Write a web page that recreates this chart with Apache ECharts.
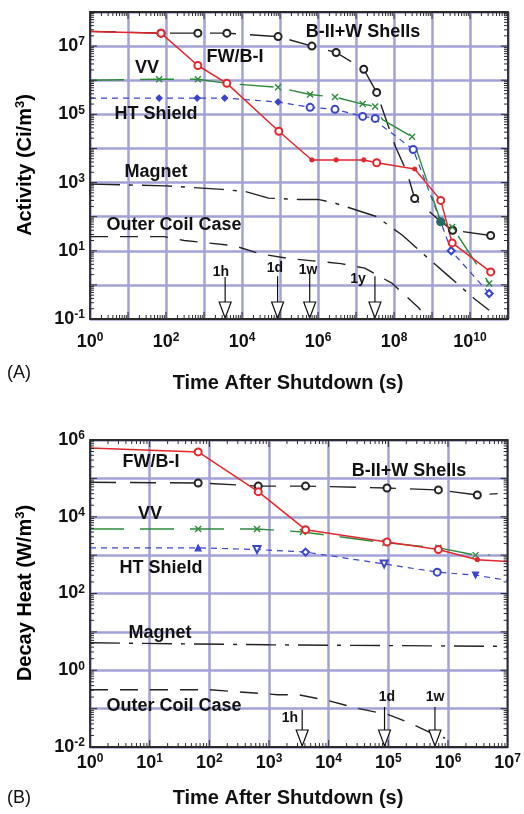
<!DOCTYPE html>
<html><head><meta charset="utf-8">
<script src="https://cdn.jsdelivr.net/npm/echarts@6/dist/echarts.min.js"></script>
<style>html,body{margin:0;padding:0;background:#fff}#c{width:524px;height:814px}</style>
</head><body><div id="c"></div>
<script>
// ================= DATA =================
// (A) Activity (Ci/m^3) vs time after shutdown (s)
const aFwT = [1, 74, 690, 4000, 9.3e4, 6.9e5, 3.0e6, 1.6e7, 3.5e7, 3.5e8, 1.7e9, 3.4e9, 3.5e10];
const aFwV = [2.7e7, 2.4e7, 2.7e6, 8.1e5, 3.2e4, 4.6e3, 4.6e3, 4.6e3, 3.8e3, 2.5e3, 300, 17, 2.4];
const aVvT = [1, 66, 690, 4000, 8.9e4, 6.2e5, 2.8e6, 1.5e7, 3.2e7, 5.0e7, 3.0e8, 1.7e9, 3.4e9, 3.2e10];
const aVvV = [1.0e6, 1.07e6, 1.07e6, 8.1e5, 6.2e5, 3.8e5, 3.2e5, 2.0e5, 1.7e5, 7.0e4, 2.2e4, 71, 50, 1.1];
const aHtT = [1, 66, 660, 3500, 8.9e4, 6.2e5, 2.8e6, 1.5e7, 3.2e7, 5.0e7, 3.2e8, 1.7e9, 3.2e9, 3.2e10];
const aHtV = [3.0e5, 3.0e5, 3.0e5, 3.0e5, 2.3e5, 1.6e5, 1.4e5, 8.7e4, 7.6e4, 4.5e4, 9.3e3, 71, 10, 0.56];
const aBwT = [1, 74, 690, 4000, 8.9e4, 6.9e5, 3.0e6, 1.6e7, 3.5e7, 1.1e8, 2.2e8, 3.5e8, 1.7e9, 3.5e9, 3.5e10];
const aBwV = [2.7e7, 2.4e7, 2.4e7, 2.4e7, 1.9e7, 1.0e7, 6.5e6, 2.1e6, 4.4e5, 1.1e4, 2.0e3, 340, 71, 40, 28];
const aMgT = [1, 100, 3000, 1.2e4, 5e4, 3.2e5, 1e6, 2.5e6, 3.5e7, 1.7e8, 6.6e8, 2.6e9, 1.35e10, 3.2e10];
const aMgV = [900, 800, 630, 550, 350, 320, 320, 260, 100, 28, 7.2, 1.9, 0.38, 0.18];
const aOcT = [1, 90, 300, 6.3e3, 3.2e4, 1.6e5, 4e6, 1.7e7, 9e7, 4.3e8, 1e9];
const aOcV = [26, 26, 20, 14, 8, 6, 4.2, 3.1, 1.1, 0.22, 0.08];
const aArrowT = [3600, 86400, 604800, 3.15e7];
const aArrowTop = [1.7, 1.8, 2.1, 1.8];
const aArrowLbl = ['1h', '1d', '1w', '1y'];

// (B) Decay heat (W/m^3) vs time after shutdown (s)
const bFwT = [1, 65, 660, 4100, 9.5e4, 6.9e5, 3.1e6, 1e7];
const bFwV = [6.2e5, 4.9e5, 4.5e4, 4.6e3, 2.2e3, 1.4e3, 760, 680];
const bVvT = [1, 65, 630, 3700, 8.9e4, 6.9e5, 2.9e6, 5e6];
const bVvV = [4.8e3, 4.8e3, 4.8e3, 4.0e3, 2.1e3, 1.55e3, 1.0e3, 1.0e3];
const bHtT = [1, 65, 630, 4100, 8.5e4, 6.6e5, 2.9e6, 1e7];
const bHtV = [1.55e3, 1.55e3, 1.4e3, 1.2e3, 590, 360, 300, 220];
const bBwT = [1, 65, 660, 4100, 9.5e4, 6.9e5, 3.1e6, 6.8e6];
const bBwV = [7.9e4, 7.6e4, 6.3e4, 6.3e4, 5.6e4, 5.0e4, 3.7e4, 4.0e4];
const bMgT = [1, 1000, 1e7];
const bMgV = [5.2, 4.6, 4.2];
const bOcT = [1, 100, 1400, 3100, 1e4, 3.2e4, 1e5, 2.5e5, 6.3e5, 9e5];
const bOcV = [0.31, 0.31, 0.23, 0.23, 0.16, 0.10, 0.07, 0.04, 0.02, 0.017];
const bArrowT = [3600, 86400, 604800];
const bArrowTop = [0.093, 0.11, 0.11];
const bArrowLbl = ['1h', '1d', '1w'];

const seriesNames = ['FW/B-I', 'VV', 'HT Shield', 'B-II+W Shells', 'Magnet', 'Outer Coil Case'];
const xTitle = 'Time After Shutdown (s)';

// ================= STYLE =================
const FONT = '"Liberation Sans", Arial, Helvetica, sans-serif';
const C = {fw: '#e2262c', vv: '#2e8a3b', ht: '#3a45c8', bw: '#222', grid: '#a2a2d8', frame: '#2a2a2a'};
const marks = {
  aFw: ['', 'o', 'o', 'o', 'o', '.', '.', '.', 'o', '.', 'o', 'o', 'o'],
  aVv: ['', 'x', 'x', 'x', 'x', 'x', 'x', 'x', 'x', '', 'x', 'T', 'x', 'x'],
  aHt: ['', 'd', 'd', 'd', 'd', 'o', 'o', 'o', 'o', '', 'o', '', 'D', 'D'],
  aBw: ['', 'o', 'o', 'o', 'o', 'o', 'o', 'o', 'o', '', '', 'o', '', 'o', 'o'],
  bFw: ['', 'o', 'o', 'o', 'o', 'o', '.', ''],
  bVv: ['', 'x', 'x', 'x', 'x', 'x', 'x', ''],
  bHt: ['', '^', 'v', 'D', 'v', 'o', 'V', ''],
  bBw: ['', 'o', 'o', 'o', 'o', 'o', 'o', '']
};
const SYM = {
  'o': {symbol: 'emptyCircle', size: 7},
  '.': {symbol: 'circle', size: 4},
  'x': {symbol: 'path://M0,0L10,10M10,0L0,10', size: 6, stroke: true},
  'd': {symbol: 'diamond', size: 6},
  'D': {symbol: 'emptyDiamond', size: 7},
  '^': {symbol: 'triangle', size: 6},
  'v': {symbol: 'emptyTriangle', size: 7, rotate: 180},
  'V': {symbol: 'triangle', size: 6, rotate: 180},
  'T': {symbol: 'circle', size: 8, color: '#2c6a66'}
};
function build(ts, vs, mk, color) {
  return ts.map((t, i) => {
    const m = mk && SYM[mk[i]];
    if (!m) return {value: [t, vs[i]], symbol: 'none'};
    const c = m.color || color;
    const it = {value: [t, vs[i]], symbol: m.symbol, symbolSize: m.size,
      itemStyle: {color: c, borderColor: c, borderWidth: m.stroke ? 1.4 : 1.2}};
    if (m.rotate) it.symbolRotate = m.rotate;
    return it;
  });
}
function line(gi, name, data, color, type, width) {
  return {type: 'line', name, xAxisIndex: gi, yAxisIndex: gi, data, z: 4,
    lineStyle: {color, width: width || 1.4, type: type || 'solid'},
    itemStyle: {color}, showSymbol: true, animation: false, clip: true};
}
function frameSeries(gi, xE, yE) {
  const x0 = Math.pow(10, xE[0]), x1 = Math.pow(10, xE[1]);
  const y0 = Math.pow(10, yE[0]), y1 = Math.pow(10, yE[1]);
  return {type: 'custom', xAxisIndex: gi, yAxisIndex: gi, silent: true, z: 10, clip: false,
    data: [[x0, y0]],
    renderItem: (params, api) => {
      const bl = api.coord([x0, y0]), tr = api.coord([x1, y1]);
      const L = bl[0], R = tr[0], B = bl[1], T = tr[1];
      const st = {stroke: C.frame, lineWidth: 1};
      const kids = [];
      for (let k = xE[0]; k < xE[1]; k++) for (let m = 1; m < 10; m++) {
        if (m === 1 && k === xE[0]) continue;
        const x = api.coord([m * Math.pow(10, k), y0])[0];
        const len = m === 1 ? 7 : 4;
        kids.push({type: 'line', shape: {x1: x, y1: B, x2: x, y2: B - len}, style: st});
        kids.push({type: 'line', shape: {x1: x, y1: T, x2: x, y2: T + len}, style: st});
      }
      for (let k = yE[0]; k < yE[1]; k++) for (let m = 1; m < 10; m++) {
        if (m === 1 && k === yE[0]) continue;
        const y = api.coord([x0, m * Math.pow(10, k)])[1];
        const len = m === 1 ? 7 : 4;
        kids.push({type: 'line', shape: {x1: L, y1: y, x2: L + len, y2: y}, style: st});
        kids.push({type: 'line', shape: {x1: R, y1: y, x2: R - len, y2: y}, style: st});
      }
      kids.push({type: 'rect', shape: {x: L, y: T, width: R - L, height: B - T},
        style: {fill: 'none', stroke: C.frame, lineWidth: 1.8}});
      return {type: 'group', children: kids};
    }};
}
function arrowSeries(gi, ts, tops, yMin) {
  return {type: 'custom', xAxisIndex: gi, yAxisIndex: gi, silent: true, z: 8, clip: false,
    data: ts.map((t, i) => [t, tops[i]]),
    renderItem: (params, api) => {
      const p = api.coord([api.value(0), api.value(1)]);
      const b = api.coord([api.value(0), yMin]);
      const h = 17, w = 6;
      return {type: 'group', children: [
        {type: 'line', shape: {x1: p[0], y1: p[1], x2: p[0], y2: b[1] - h}, style: {stroke: '#111', lineWidth: 1.2}},
        {type: 'polygon', shape: {points: [[b[0] - w, b[1] - h], [b[0] + w, b[1] - h], [b[0], b[1] - 1]]},
          style: {fill: '#fff', stroke: '#111', lineWidth: 1.2}}
      ]};
    }};
}
const rich = {
  b: {fontSize: 18, fontWeight: 'bold', fontFamily: FONT, color: '#111', lineHeight: 20},
  e: {fontSize: 12, fontWeight: 'bold', fontFamily: FONT, color: '#111', verticalAlign: 'top', lineHeight: 13}
};
const lab = (parity) => (v) => {
  const e = Math.round(Math.log10(v));
  if (parity !== null && Math.abs(e % 2) !== parity) return '';
  return '{b|10}{e|' + e + '}';
};
function xAx(gi, min, max, parity, margin) {
  return {type: 'log', logBase: 10, gridIndex: gi, min, max, interval: 1, splitNumber: 20,
    axisLine: {show: false}, axisTick: {show: false}, minorTick: {show: false},
    splitLine: {show: true, lineStyle: {color: C.grid, width: 2.5}},
    axisLabel: {formatter: lab(parity), rich, margin, showMinLabel: true, showMaxLabel: true, hideOverlap: false}};
}
function yAx(gi, min, max, parity) {
  return {type: 'log', logBase: 10, gridIndex: gi, min, max, interval: 1, splitNumber: 20,
    axisLine: {show: false}, axisTick: {show: false}, minorTick: {show: false},
    splitLine: {show: true, lineStyle: {color: C.grid, width: 2.5}},
    axisLabel: {formatter: lab(parity), rich, margin: 5, showMinLabel: true, showMaxLabel: true, hideOverlap: false}};
}
function txt(x, y, text, size, weight, align) {
  return {type: 'text', x, y, z: 100, silent: true,
    style: {text, font: (weight || 'bold') + ' ' + size + 'px ' + FONT, fill: '#111',
      textAlign: align || 'center', textVerticalAlign: 'middle'}};
}
function rotTitle(x, y, main, tail) {
  return {type: 'text', x, y, rotation: Math.PI / 2, z: 100, silent: true,
    style: {text: '{a|' + main + '}{s|3}{a|' + tail + '}', textAlign: 'center', textVerticalAlign: 'middle',
      rich: {a: {fontSize: 20, fontWeight: 'bold', fontFamily: FONT, color: '#111', lineHeight: 22},
             s: {fontSize: 13, fontWeight: 'bold', fontFamily: FONT, color: '#111', verticalAlign: 'top', lineHeight: 13}}}};
}

const graphics = [
  txt(363, 32, seriesNames[3], 18), txt(235, 57, seriesNames[0], 18), txt(147, 68, seriesNames[1], 18),
  txt(156, 114, seriesNames[2], 18), txt(156, 172, seriesNames[4], 18), txt(174, 225, seriesNames[5], 18),
  txt(221, 272, aArrowLbl[0], 14), txt(275, 268, aArrowLbl[1], 14), txt(308, 270, aArrowLbl[2], 14), txt(358, 279, aArrowLbl[3], 14),
  txt(151, 462, seriesNames[0], 18), txt(409, 471, seriesNames[3], 18), txt(150, 514, seriesNames[1], 18),
  txt(161, 568, seriesNames[2], 18), txt(160, 633, seriesNames[4], 18), txt(174, 706, seriesNames[5], 18),
  txt(290, 718, bArrowLbl[0], 14), txt(387, 697, bArrowLbl[1], 14), txt(435, 697, bArrowLbl[2], 14),
  txt(288, 383, xTitle, 20), txt(288, 798, xTitle, 20),
  txt(7, 373, '(A)', 18, 'normal', 'left'), txt(7, 798, '(B)', 18, 'normal', 'left'),
  rotTitle(25, 165, 'Activity (Ci/m', ')'), rotTitle(25, 593, 'Decay Heat (W/m', ')')
];

const option = {
  animation: false,
  backgroundColor: '#fff',
  grid: [{left: 90, top: 12, width: 418, height: 307}, {left: 90, top: 440, width: 418, height: 307}],
  xAxis: [xAx(0, 1, 1e11, 0, 13), xAx(1, 1, 1e7, null, 6)],
  yAxis: [yAx(0, 0.1, 1e8, 1), yAx(1, 0.01, 1e6, 0)],
  graphic: graphics,
  series: [
    line(0, 'Outer Coil Case', build(aOcT, aOcV, null, C.bw), C.bw, [18, 12]),
    line(0, 'Magnet', build(aMgT, aMgV, null, C.bw), C.bw, [30, 9, 4, 9]),
    line(0, 'B-II+W Shells', build(aBwT, aBwV, marks.aBw, C.bw), C.bw, [26, 14]),
    line(0, 'HT Shield', build(aHtT, aHtV, marks.aHt, C.ht), C.ht, [6, 5], 1.2),
    line(0, 'VV', build(aVvT, aVvV, marks.aVv, C.vv), C.vv, [34, 16]),
    line(0, 'FW/B-I', build(aFwT, aFwV, marks.aFw, C.fw), C.fw, 'solid', 1.5),
    line(1, 'Outer Coil Case', build(bOcT, bOcV, null, C.bw), C.bw, [18, 12]),
    line(1, 'Magnet', build(bMgT, bMgV, null, C.bw), C.bw, [30, 9, 4, 9]),
    line(1, 'B-II+W Shells', build(bBwT, bBwV, marks.bBw, C.bw), C.bw, [26, 14]),
    line(1, 'HT Shield', build(bHtT, bHtV, marks.bHt, C.ht), C.ht, [6, 5], 1.2),
    line(1, 'VV', build(bVvT, bVvV, marks.bVv, C.vv), C.vv, [34, 16]),
    line(1, 'FW/B-I', build(bFwT, bFwV, marks.bFw, C.fw), C.fw, 'solid', 1.5),
    arrowSeries(0, aArrowT, aArrowTop, 0.1),
    arrowSeries(1, bArrowT, bArrowTop, 0.01),
    frameSeries(0, [0, 11], [-1, 8]),
    frameSeries(1, [0, 7], [-2, 6])
  ]
};
const chart = echarts.init(document.getElementById('c'), null, {renderer: 'canvas'});
chart.setOption(option);
</script></body></html>
